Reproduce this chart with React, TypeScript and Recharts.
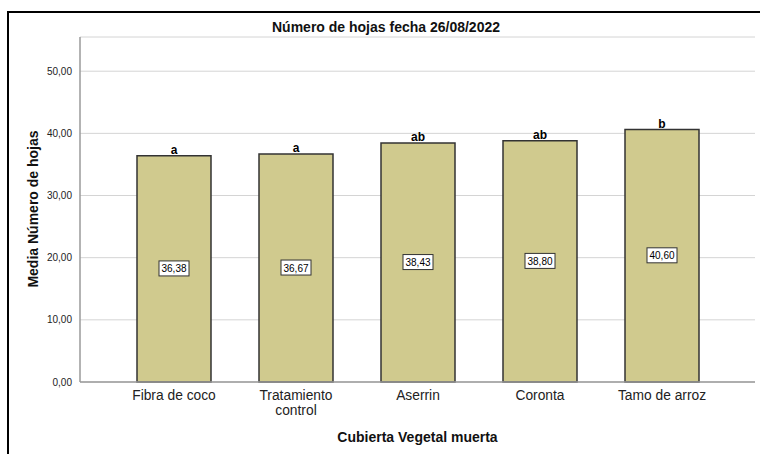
import { BarChart, Bar, XAxis, YAxis, CartesianGrid, LabelList } from 'recharts';

const categories = ['Fibra de coco', 'Tratamiento control', 'Aserrin', 'Coronta', 'Tamo de arroz'];
const means = [36.38, 36.67, 38.43, 38.8, 40.6];
const groups = ['a', 'a', 'ab', 'ab', 'b'];
const yTicks = [0, 10, 20, 30, 40, 50];

const data = categories.map((name, i) => ({ name, value: means[i], group: groups[i] }));

const font = "'Liberation Sans', Arial, sans-serif";
const fmt = (v: number) => v.toFixed(2).replace('.', ',');

function CategoryTick({ x, y, payload }: any) {
  const lines = payload.value === 'Tratamiento control' ? ['Tratamiento', 'control'] : [payload.value];
  return (
    <g>
      {lines.map((l, i) => (
        <text key={i} x={x} y={y + 10 + i * 14.5} textAnchor="middle" fontFamily={font} fontSize={13.8} fill="#222">
          {l}
        </text>
      ))}
    </g>
  );
}

function ValueBox({ x, y, width, height, value }: any) {
  const cx = x + width / 2;
  const cy = y + height / 2;
  return (
    <g>
      <rect x={cx - 15} y={cy - 8} width={30} height={15} fill="#fff" stroke="#333" strokeWidth={1} />
      <text x={cx} y={cy + 3.5} textAnchor="middle" fontFamily={font} fontSize={10} fill="#000">{fmt(value)}</text>
    </g>
  );
}

function GroupLetter({ x, y, width, value }: any) {
  return (
    <text x={x + width / 2} y={y - 2} textAnchor="middle" fontFamily={font} fontSize={12} fontWeight="bold" fill="#000">
      {value}
    </text>
  );
}

export default function App() {
  return (
    <div style={{ position: 'fixed', left: 0, top: 0, width: 760, height: 454, overflow: 'hidden', background: '#fff' }}>
      <div style={{ position: 'absolute', left: 7, top: 11, width: 800, height: 500, border: '2px solid #000' }} />
      <div style={{ position: 'absolute', left: 0, top: 0 }}>
        <BarChart width={760} height={454} data={data} margin={{ top: 37, right: 5, bottom: 42, left: 0 }}>
          <CartesianGrid vertical={false} stroke="#d4d4d4" />
          <XAxis
            dataKey="name"
            height={30}
            padding={{ left: 33, right: 32 }}
            tickLine={false}
            axisLine={{ stroke: '#9a9a9a', strokeWidth: 1.5 }}
            tick={<CategoryTick />}
            interval={0}
          />
          <YAxis
            width={80}
            domain={[0, 55.5]}
            ticks={yTicks}
            tickLine={false}
            axisLine={{ stroke: '#9a9a9a', strokeWidth: 1.5 }}
            tickFormatter={fmt}
            tick={{ fontFamily: font, fontSize: 10, fill: '#222' }}
          />
          <Bar dataKey="value" barSize={74} fill="#D0CA8E" stroke="#333" strokeWidth={1.5} isAnimationActive={false}>
            <LabelList dataKey="value" content={<ValueBox />} />
            <LabelList dataKey="group" content={<GroupLetter />} />
          </Bar>
        </BarChart>
      </div>
      <div style={{ position: 'absolute', left: 0, width: 772, top: 19, textAlign: 'center', fontFamily: font, fontSize: 14, fontWeight: 'bold', color: '#111' }}>
        Número de hojas fecha 26/08/2022
      </div>
      <div style={{ position: 'absolute', left: 80, width: 675, top: 429, textAlign: 'center', fontFamily: font, fontSize: 14, fontWeight: 'bold', color: '#111' }}>
        Cubierta Vegetal muerta
      </div>
      <div style={{ position: 'absolute', left: 33, top: 210, width: 0, height: 0 }}>
        <div style={{ position: 'absolute', left: -100, top: -9, width: 200, textAlign: 'center', transform: 'rotate(-90deg)', fontFamily: font, fontSize: 14, fontWeight: 'bold', color: '#111', whiteSpace: 'nowrap' }}>
          Media Número de hojas
        </div>
      </div>
    </div>
  );
}
